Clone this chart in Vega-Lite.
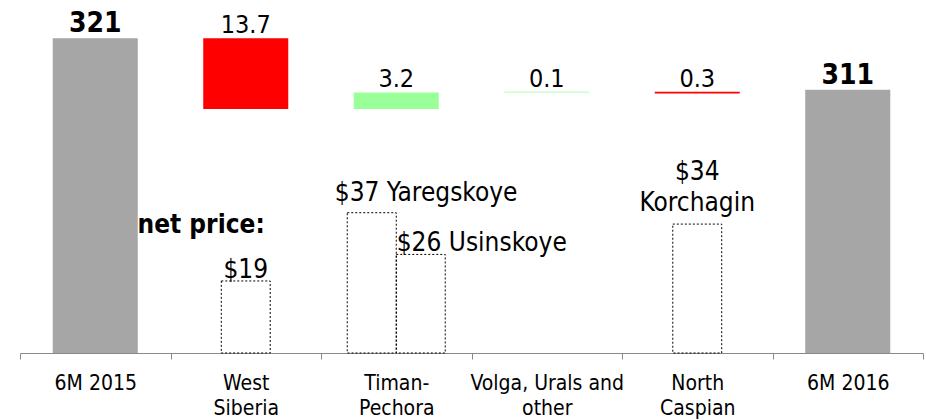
{
  "$schema": "https://vega.github.io/schema/vega-lite/v6.json",
  "width": 903,
  "height": 353,
  "autosize": {"type": "none"},
  "padding": {"left": 20, "top": 0, "right": 3, "bottom": 67},
  "config": {
    "view": {"stroke": null},
    "font": "DejaVu Sans Condensed, DejaVu Sans",
    "text": {"font": "DejaVu Sans Condensed, DejaVu Sans", "color": "#000000"}
  },
  "datasets": {
    "steps": [
      {"stage": "6M 2015", "kind": "total", "high": 321, "amount": 321},
      {"stage": "West Siberia", "kind": "decrease", "low": 307.3, "high": 321, "amount": 13.7},
      {"stage": "Timan-Pechora", "kind": "increase", "low": 307.3, "high": 310.5, "amount": 3.2},
      {"stage": "Volga, Urals and other", "kind": "increase", "low": 310.5, "high": 310.6, "amount": 0.1},
      {"stage": "North Caspian", "kind": "decrease", "low": 310.3, "high": 310.6, "amount": 0.3},
      {"stage": "6M 2016", "kind": "total", "high": 311, "amount": 311}
    ],
    "prices": [
      {"stage": "West Siberia", "slot": "single", "price": 19, "label": "$19"},
      {"stage": "Timan-Pechora", "slot": "left", "price": 37, "label": "$37 Yaregskoye"},
      {"stage": "Timan-Pechora", "slot": "right", "price": 26, "label": "$26 Usinskoye"},
      {"stage": "North Caspian", "slot": "single", "price": 34, "label": "$34\nKorchagin"}
    ]
  },
  "encoding": {
    "x": {
      "field": "stage",
      "type": "nominal",
      "sort": null,
      "scale": {
        "domain": ["6M 2015", "West Siberia", "Timan-Pechora", "Volga, Urals and other", "North Caspian", "6M 2016"],
        "paddingInner": 0,
        "paddingOuter": 0
      },
      "axis": {
        "title": null,
        "labelAngle": 0,
        "labelFontSize": 21,
        "labelFont": "DejaVu Sans Condensed, DejaVu Sans",
        "labelColor": "#000000",
        "labelBaseline": "top",
        "labelPadding": 13,
        "labelLineHeight": 25.7,
        "labelLimit": 0,
        "labelOverlap": false,
        "domainColor": "#898989",
        "tickColor": "#898989",
        "tickSize": 6,
        "tickBand": "extent",
        "grid": false,
        "labelExpr": "datum.value == 'West Siberia' ? ['West', 'Siberia'] : datum.value == 'Timan-Pechora' ? ['Timan-', 'Pechora'] : datum.value == 'Volga, Urals and other' ? ['Volga, Urals and', 'other'] : datum.value == 'North Caspian' ? ['North', 'Caspian'] : datum.label"
      }
    }
  },
  "layer": [
    {
      "data": {"name": "steps"},
      "layer": [
        {
          "transform": [{"filter": "datum.kind == 'total'"}],
          "mark": {"type": "bar", "color": "#a6a6a6", "width": {"band": 0.565}, "clip": true},
          "encoding": {
            "y": {"field": "high", "type": "quantitative", "scale": {"domain": [260, 328.4], "zero": false, "nice": false}, "axis": null}
          }
        },
        {
          "transform": [{"filter": "datum.kind != 'total'"}],
          "mark": {"type": "bar", "width": {"band": 0.565}},
          "encoding": {
            "y": {"field": "high", "type": "quantitative", "scale": {"domain": [260, 328.4], "zero": false, "nice": false}, "axis": null},
            "y2": {"field": "low"},
            "color": {"field": "kind", "type": "nominal", "scale": {"domain": ["increase", "decrease"], "range": ["#99ff99", "#ff0000"]}, "legend": null}
          }
        },
        {
          "transform": [{"filter": "datum.kind == 'total'"}],
          "mark": {"type": "text", "fontSize": 28, "fontWeight": "bold", "baseline": "alphabetic", "dy": -6},
          "encoding": {
            "y": {"field": "high", "type": "quantitative", "scale": {"domain": [260, 328.4], "zero": false, "nice": false}, "axis": null},
            "text": {"field": "amount", "type": "quantitative", "format": "d"}
          }
        },
        {
          "transform": [{"filter": "datum.kind != 'total'"}],
          "mark": {"type": "text", "fontSize": 25, "baseline": "alphabetic", "dy": -5},
          "encoding": {
            "y": {"field": "high", "type": "quantitative", "scale": {"domain": [260, 328.4], "zero": false, "nice": false}, "axis": null},
            "text": {"field": "amount", "type": "quantitative", "format": ".1f"}
          }
        }
      ]
    },
    {
      "data": {"name": "prices"},
      "layer": [
        {
          "transform": [{"filter": "datum.slot == 'single'"}],
          "mark": {"type": "bar", "fill": "transparent", "stroke": "#000000", "strokeWidth": 1, "strokeDash": [2, 2], "width": {"band": 0.325}},
          "encoding": {
            "y": {"field": "price", "type": "quantitative", "scale": {"domain": [0, 93.1], "nice": false}, "axis": null}
          }
        },
        {
          "transform": [{"filter": "datum.slot != 'single'"}],
          "mark": {"type": "bar", "fill": "transparent", "stroke": "#000000", "strokeWidth": 1, "strokeDash": [2, 2]},
          "encoding": {
            "xOffset": {"field": "slot", "type": "nominal", "scale": {"domain": ["left", "right"], "paddingInner": 0, "paddingOuter": 0.536}},
            "y": {"field": "price", "type": "quantitative", "scale": {"domain": [0, 93.1], "nice": false}, "axis": null}
          }
        },
        {
          "transform": [{"filter": "datum.stage == 'West Siberia'"}],
          "mark": {"type": "text", "fontSize": 26, "baseline": "alphabetic", "dy": -3},
          "encoding": {
            "y": {"field": "price", "type": "quantitative", "scale": {"domain": [0, 93.1], "nice": false}, "axis": null},
            "text": {"field": "label", "type": "nominal"}
          }
        },
        {
          "transform": [{"filter": "datum.stage == 'West Siberia'"}],
          "mark": {"type": "text", "fontSize": 26, "fontWeight": "bold", "align": "right", "baseline": "alphabetic", "dx": 19, "dy": -48},
          "encoding": {
            "y": {"field": "price", "type": "quantitative", "scale": {"domain": [0, 93.1], "nice": false}, "axis": null},
            "text": {"value": "net price:"}
          }
        },
        {
          "transform": [{"filter": "datum.stage == 'North Caspian'"}],
          "mark": {"type": "text", "fontSize": 26, "baseline": "alphabetic", "lineBreak": "\n", "lineHeight": 31.7, "dy": -44.4},
          "encoding": {
            "y": {"field": "price", "type": "quantitative", "scale": {"domain": [0, 93.1], "nice": false}, "axis": null},
            "text": {"field": "label", "type": "nominal"}
          }
        },
        {
          "transform": [{"filter": "datum.slot == 'left'"}],
          "mark": {"type": "text", "fontSize": 26, "align": "left", "baseline": "alphabetic", "dx": -37, "dy": -11.6},
          "encoding": {
            "xOffset": {"field": "slot", "type": "nominal", "scale": {"domain": ["left", "right"], "paddingInner": 0, "paddingOuter": 0.536}},
            "y": {"field": "price", "type": "quantitative", "scale": {"domain": [0, 93.1], "nice": false}, "axis": null},
            "text": {"field": "label", "type": "nominal"}
          }
        },
        {
          "transform": [{"filter": "datum.slot == 'right'"}],
          "mark": {"type": "text", "fontSize": 26, "align": "left", "baseline": "alphabetic", "dx": -24, "dy": -3},
          "encoding": {
            "xOffset": {"field": "slot", "type": "nominal", "scale": {"domain": ["left", "right"], "paddingInner": 0, "paddingOuter": 0.536}},
            "y": {"field": "price", "type": "quantitative", "scale": {"domain": [0, 93.1], "nice": false}, "axis": null},
            "text": {"field": "label", "type": "nominal"}
          }
        }
      ]
    }
  ],
  "resolve": {"scale": {"y": "independent"}}
}
